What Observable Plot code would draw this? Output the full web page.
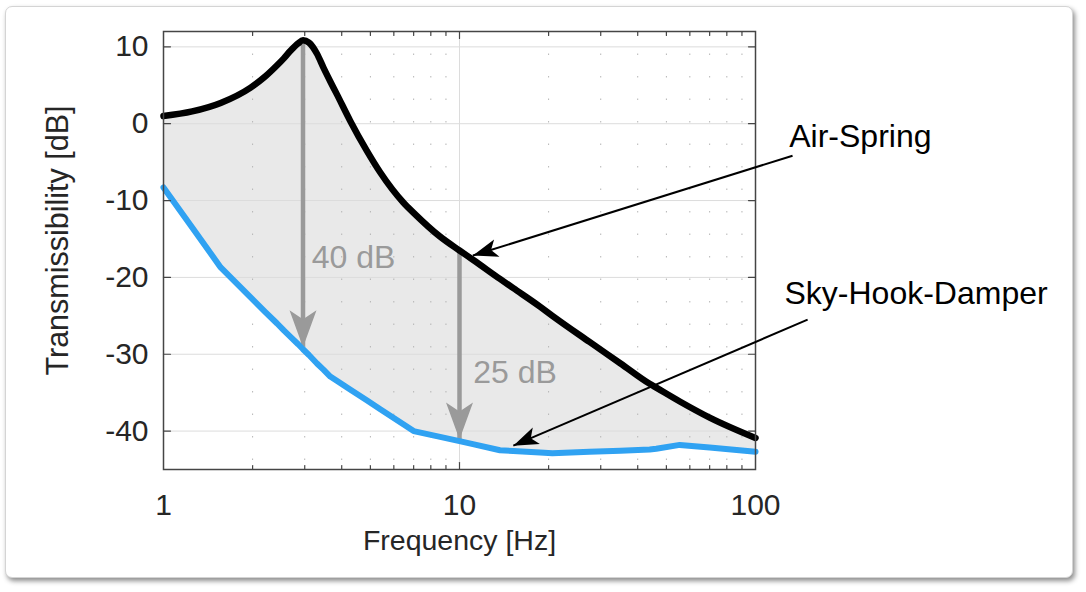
<!DOCTYPE html>
<html><head><meta charset="utf-8">
<script src="https://cdn.jsdelivr.net/npm/d3@7"></script>
<script src="https://cdn.jsdelivr.net/npm/@observablehq/plot@0.6"></script>
<style>
html,body{margin:0;padding:0;background:#fff;}
#wrap{position:relative;width:1086px;height:592px;overflow:hidden;}
#card{position:absolute;left:5px;top:6px;width:1066px;height:570px;border:1px solid #d4d4d4;border-radius:7px;box-shadow:2px 3px 5px rgba(0,0,0,0.45);background:#fff;}
#chart{position:absolute;left:0;top:0;}
</style></head><body>
<div id="wrap"><div id="card"></div><div id="chart"></div></div>
<script>
// Frequency grid [Hz] and the two transmissibility curves [dB]
const freq      = [1, 1.25, 1.56, 1.97, 2.2, 2.42, 2.55, 2.68, 2.85, 2.96, 3.1, 3.3, 3.47, 3.66, 3.85, 4.27, 4.86, 5.4, 6.46, 7, 8.6, 10, 11.1, 13.7, 15.2, 18.7, 20.6, 27.5, 35, 43.9, 46.2, 55.5, 70, 100];
const airSpring = [1.0, 1.6, 2.7, 4.7, 6.1, 7.6, 8.5, 9.45, 10.45, 10.85, 10.55, 9.1, 7.3, 5.5, 3.85, 0.4, -3.5, -6.35, -10.25, -11.6, -14.7, -16.5, -17.7, -20.2, -21.4, -23.8, -25.0, -28.4, -31.2, -33.85, -34.35, -36.15, -38.25, -40.9];
const skyHook   = [-8.3, -13.5, -18.7, -22.6, -24.45, -26.0, -26.9, -27.7, -28.7, -29.35, -30.1, -31.2, -32.0, -32.9, -33.45, -34.6, -36.0, -37.15, -39.1, -40.0, -40.75, -41.3, -41.7, -42.5, -42.6, -42.8, -42.9, -42.7, -42.55, -42.4, -42.3, -41.8, -42.15, -42.7];

const yTicks = [-40, -30, -20, -10, 0, 10];
const xTicks = [1, 10, 100];
const xMinor = [2, 3, 4, 5, 6, 7, 8, 9, 20, 30, 40, 50, 60, 70, 80, 90];

// gray difference arrows
const gapArrows = [
  {f: 2.96, top: 10.8, bottom: -29.1, label: "40 dB", lf: 3.17, ly: -17.5},
  {f: 10, top: -16.5, bottom: -41.1, label: "25 dB", lf: 11.13, ly: -32.4}
];
// labelled call-outs
const callouts = [
  {label: "Air-Spring", tf: 130, ty: -1.7, sf: 133.4, sy: -4.17, ef: 11.1, ey: -17.16},
  {label: "Sky-Hook-Damper", tf: 125.3, ty: -22.1, sf: 150, sy: -25.5, ef: 15.2, ey: -41.9}
];

const W = 1086, H = 592, mL = 163, mR = 331, mT = 31, mB = 123;
const xOpts = {type: "log", domain: [1, 100]};
const yOpts = {domain: [-45, 12]};
const sx = Plot.scale({x: {...xOpts, range: [mL, W - mR]}});
const sy = Plot.scale({y: {...yOpts, range: [H - mB, mT]}});
callouts.forEach(d => {
  const dx = sx.apply(d.ef) - sx.apply(d.sf);
  const dy = sy.apply(d.ey) - sy.apply(d.sy);
  d.angle = Math.atan2(dx, -dy) * 180 / Math.PI;
});

const rows = freq.map((f, i) => ({f, air: airSpring[i], sky: skyHook[i]}));

const notched = (notch) => ({
  draw(ctx, l, r) {
    ctx.moveTo(0, -l);
    ctx.lineTo(r, 0);
    ctx.lineTo(0, -notch);
    ctx.lineTo(-r, 0);
    ctx.closePath();
  }
});
const tickShape = {draw(ctx, l) { ctx.moveTo(0, 0); ctx.lineTo(0, -l); }};
const axisCol = "#454545";
const tickOpts = {anchor: "start", shape: tickShape, stroke: axisCol, strokeWidth: 1.2};

const chart = Plot.plot({
  width: W, height: H,
  marginLeft: mL, marginRight: mR, marginTop: mT, marginBottom: mB,
  style: {background: "transparent", fontFamily: "'Liberation Sans', Arial, Helvetica, sans-serif", fontSize: "30px", color: "#262626"},
  x: {...xOpts, ticks: xTicks, tickFormat: d => String(d), tickSize: 0, tickPadding: 24, label: null},
  y: {...yOpts, ticks: yTicks, tickFormat: d => String(d), tickSize: 0, tickPadding: 15, label: null},
  marks: [
    Plot.areaY(rows, {x: "f", y1: "sky", y2: "air", fill: "#e9e9e9"}),
    Plot.ruleY(yTicks, {stroke: "#dcdcdc", strokeWidth: 1}),
    Plot.ruleX([10], {stroke: "#dcdcdc", strokeWidth: 1}),
    Plot.ruleX(xMinor, {stroke: "#b5b5b5", strokeWidth: 1, strokeDasharray: "1.5,21"}),
    Plot.ruleX(gapArrows, {x: "f", y1: "top", y2: "bottom", stroke: "#9a9a9a", strokeWidth: 4.5}),
    Plot.vector(gapArrows, {x: "f", y: "bottom", rotate: 180, length: 37, r: 13.5, anchor: "end", shape: notched(9), fill: "#9a9a9a", stroke: "none"}),
    Plot.line(rows, {x: "f", y: "air", stroke: "#000", strokeWidth: 6.5, curve: "monotone-x", strokeLinejoin: "round"}),
    Plot.line(rows, {x: "f", y: "sky", stroke: "#30a2f2", strokeWidth: 6, strokeLinejoin: "round"}),
    Plot.frame({stroke: axisCol, strokeWidth: 1.5}),
    Plot.vector(yTicks, {x: 1, y: d => d, rotate: 90, length: 7, ...tickOpts}),
    Plot.vector(yTicks, {x: 100, y: d => d, rotate: -90, length: 7, ...tickOpts}),
    Plot.vector([10], {x: d => d, y: -45, rotate: 0, length: 7, ...tickOpts}),
    Plot.vector([10], {x: d => d, y: 12, rotate: 180, length: 7, ...tickOpts}),
    Plot.vector(xMinor, {x: d => d, y: -45, rotate: 0, length: 4, ...tickOpts}),
    Plot.vector(xMinor, {x: d => d, y: 12, rotate: 180, length: 4, ...tickOpts}),
    Plot.link(callouts, {x1: "sf", y1: "sy", x2: "ef", y2: "ey", stroke: "#000", strokeWidth: 2}),
    Plot.vector(callouts, {x: "ef", y: "ey", rotate: d => d.angle, length: 25, r: 9, anchor: "end", shape: notched(6), fill: "#000", stroke: "none"}),
    Plot.text(callouts, {x: "tf", y: "ty", text: "label", textAnchor: "start", fontSize: 32, fill: "#000"}),
    Plot.text(gapArrows, {x: "lf", y: "ly", text: "label", textAnchor: "start", fontSize: 32, fill: "#9a9a9a"}),
    Plot.text(["Frequency [Hz]"], {frameAnchor: "bottom", textAnchor: "middle", lineAnchor: "middle", dy: 71, fontSize: 28.5, fill: "#262626"}),
    Plot.text(["Transmissibility [dB]"], {frameAnchor: "left", textAnchor: "middle", lineAnchor: "middle", rotate: -90, dx: -105, dy: -10, fontSize: 30.5, fill: "#262626"})
  ]
});
document.getElementById("chart").appendChild(chart);
</script>
</body></html>
